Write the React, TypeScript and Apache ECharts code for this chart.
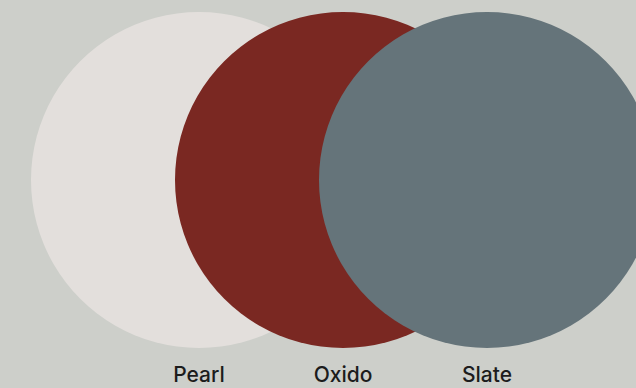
import React, { useEffect, useRef } from "react";
import * as echarts from "echarts";

const categories = ["Pearl", "Oxido", "Slate"];
const values = [1, 1, 1];
const colors = ["#e3dfdc", "#7a2822", "#65747a"];

export default function App() {
  const ref = useRef<HTMLDivElement>(null);
  useEffect(() => {
    document.body.style.margin = "0";
    const chart = echarts.init(ref.current!, null, { renderer: "svg" });
    chart.setOption({
      animation: false,
      backgroundColor: "#cdcfca",
      grid: { left: 127, width: 432, top: 12, height: 336 },
      xAxis: {
        type: "category",
        data: categories,
        axisLine: { show: false },
        axisTick: { show: false },
        splitLine: { show: false },
        axisLabel: {
          margin: 16,
          fontSize: 21,
          fontWeight: 500,
          fontFamily: "Inter",
          color: "#1c1c1c",
        },
      },
      yAxis: { type: "value", min: 0, max: 2, show: false },
      series: [
        {
          type: "scatter",
          symbol: "circle",
          symbolSize: 336,
          data: values.map((v, i) => ({
            value: v,
            itemStyle: { color: colors[i], opacity: 1 },
          })),
          emphasis: { disabled: true },
        },
      ],
    });
    return () => chart.dispose();
  }, []);
  return <div ref={ref} style={{ width: 636, height: 388 }} />;
}
